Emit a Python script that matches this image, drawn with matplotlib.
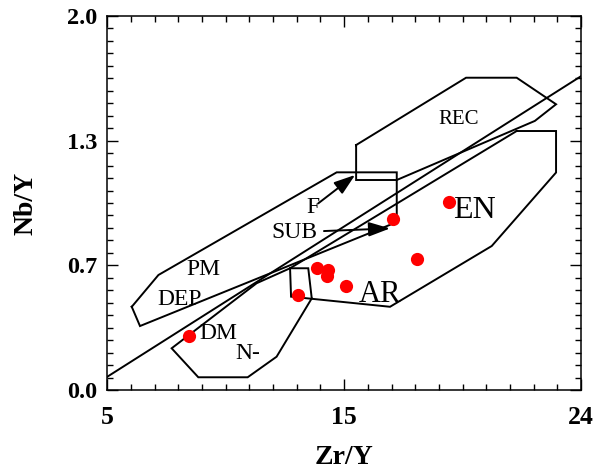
import matplotlib
matplotlib.use('Agg')
import matplotlib.pyplot as plt
import numpy as np
from matplotlib.ticker import FixedLocator, FixedFormatter

# ---- data ----
zr_y = [8.29, 12.66, 13.40, 13.86, 13.80, 14.57, 17.41, 16.47, 18.69]
nb_y = [0.289, 0.508, 0.651, 0.644, 0.610, 0.556, 0.699, 0.915, 1.007]

line_a_x = [5.0, 24.0]
line_a_y = [0.071, 1.678]

pm_x = [5.98, 7.05, 14.20, 16.61, 16.61, 6.31, 5.98]
pm_y = [0.445, 0.615, 1.164, 1.164, 0.898, 0.342, 0.445]

rec_x = [14.98, 19.39, 21.42, 23.00, 22.15, 16.61, 14.98, 14.98]
rec_y = [1.310, 1.670, 1.670, 1.528, 1.439, 1.123, 1.123, 1.310]

en_x = [21.42, 23.00, 23.00, 20.42, 16.34, 12.37, 12.33, 21.42]
en_y = [1.385, 1.385, 1.163, 0.770, 0.445, 0.499, 0.651, 1.385]

box_x = [12.33, 13.06, 13.20]
box_y = [0.651, 0.651, 0.490]

nmorb_x = [12.33, 10.99, 7.58, 8.65, 10.63, 11.79, 13.20]
nmorb_y = [0.651, 0.571, 0.223, 0.068, 0.068, 0.178, 0.490]

field_labels = ['REC', 'PM', 'DEP', 'DM', 'N-', 'F', 'SUB', 'EN', 'AR']
label_x = [19.11, 8.87, 7.90, 9.47, 10.62, 13.26, 12.52, 19.71, 15.93]
label_y = [1.421, 0.615, 0.455, 0.271, 0.166, 0.945, 0.811, 0.918, 0.472]
label_size = [15, 17, 17, 17, 17, 17, 17, 23, 22]

arrow_f = [(13.46, 0.998), (14.94, 1.150)]
arrow_sub = [(13.69, 0.850), (16.34, 0.864)]

x_ticks = [5, 14.5, 24]
x_ticklabels = ['5', '15', '24']
y_ticks = [0, 2 / 3, 4 / 3, 2]
y_ticklabels = ['0.0', '0.7', '1.3', '2.0']

serif = 'Liberation Serif'

fig = plt.figure(figsize=(6.05, 4.71), dpi=100)
ax = fig.add_axes([0.1774, 0.172, 0.7829, 0.794])

lw = 1.4
for xs, ys in [(line_a_x, line_a_y), (pm_x, pm_y), (rec_x, rec_y),
               (en_x, en_y), (box_x, box_y), (nmorb_x, nmorb_y)]:
    ax.plot(xs, ys, color='black', lw=lw, solid_joinstyle='miter', zorder=2)

for (x0, y0), (x1, y1) in [arrow_f, arrow_sub]:
    ax.annotate('', xy=(x1, y1), xytext=(x0, y0),
                arrowprops=dict(arrowstyle='-|>,head_length=0.65,head_width=0.22',
                                mutation_scale=20, color='black', lw=lw,
                                shrinkA=0, shrinkB=0), zorder=3)

for t, x, y, s in zip(field_labels, label_x, label_y, label_size):
    ax.text(x, y, t, ha='center', va='baseline', fontsize=s, family=serif,
            color='black', zorder=4)

ax.plot(zr_y, nb_y, 'o', color='#ff0000', markersize=9.5, markeredgewidth=0,
        zorder=5)

ax.set_xlim(5, 24)
ax.set_ylim(0, 2)
ax.xaxis.set_major_locator(FixedLocator(x_ticks))
ax.xaxis.set_major_formatter(FixedFormatter(x_ticklabels))
ax.yaxis.set_major_locator(FixedLocator(y_ticks))
ax.yaxis.set_major_formatter(FixedFormatter(y_ticklabels))
ax.xaxis.set_minor_locator(FixedLocator(np.linspace(5, 24, 21)))
ax.yaxis.set_minor_locator(FixedLocator(np.linspace(0, 2, 31)))
ax.tick_params(which='both', direction='in', top=True, right=True, width=1.0)
ax.tick_params(which='major', length=8)
ax.tick_params(which='minor', length=4.5)
ax.tick_params(axis='x', which='major', pad=11.5)
ax.tick_params(axis='y', which='major', pad=7.5)
for lab in ax.get_xticklabels():
    lab.set_fontfamily(serif)
    lab.set_fontweight('bold')
    lab.set_fontsize(18.5)
for lab in ax.get_yticklabels():
    lab.set_fontfamily(serif)
    lab.set_fontweight('bold')
    lab.set_fontsize(17.5)
for sp in ax.spines.values():
    sp.set_linewidth(1.1)

ax.set_xlabel('Zr/Y', fontsize=20, fontweight='bold', family=serif)
ax.set_ylabel('Nb/Y', fontsize=20, fontweight='bold', family=serif)
ax.xaxis.set_label_coords(0.5, -0.146)
ax.yaxis.set_label_coords(-0.146, 0.5)

fig.savefig('out.png', dpi=100)
